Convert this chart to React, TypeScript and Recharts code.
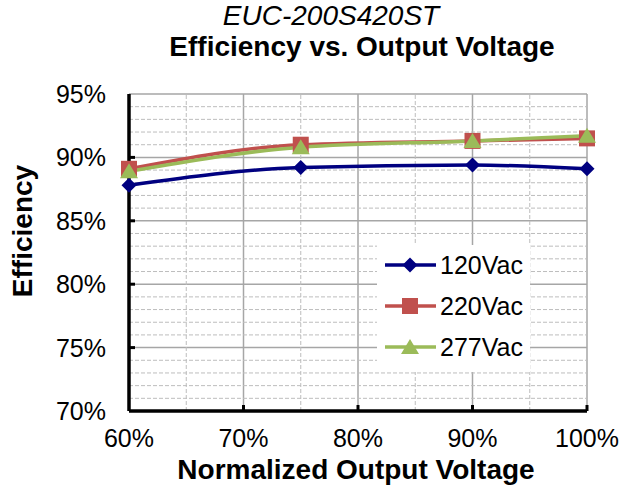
import React from 'react';
import {
  LineChart, Line, XAxis, YAxis, CartesianGrid, ReferenceLine,
} from 'recharts';

// Normalized output voltage (%) and efficiency (%) per input line voltage
const VOLTAGE = [60, 75, 90, 100];
const EFF_120 = [87.8, 89.2, 89.4, 89.1];
const EFF_220 = [89.1, 91.0, 91.3, 91.5];
const EFF_277 = [88.9, 90.8, 91.3, 91.7];

const X_TICKS = [60, 70, 80, 90, 100];
const X_MINOR = [65, 75, 85, 95];
const Y_TICKS = [70, 75, 80, 85, 90, 95];
const Y_MINOR = [71, 72, 73, 74, 76, 77, 78, 79, 81, 82, 83, 84, 86, 87, 88, 89, 91, 92, 93, 94];

const FONT = '"Liberation Sans", Arial, sans-serif';
const BLUE = '#000080';
const RED = '#c0504d';
const GREEN = '#9bbb59';
const GRID = '#a6a6a6';

type Shape = 'diamond' | 'square' | 'triangle';

const SERIES: { key: string; name: string; color: string; shape: Shape }[] = [
  { key: 'e120', name: '120Vac', color: BLUE, shape: 'diamond' },
  { key: 'e220', name: '220Vac', color: RED, shape: 'square' },
  { key: 'e277', name: '277Vac', color: GREEN, shape: 'triangle' },
];

const data = VOLTAGE.map((v, i) => ({
  v, e120: EFF_120[i], e220: EFF_220[i], e277: EFF_277[i],
}));

function marker(shape: Shape, cx: number, cy: number, color: string, key?: string | number) {
  if (shape === 'diamond') {
    const r = 7.5;
    return <path key={key} d={`M${cx},${cy - r}L${cx + r},${cy}L${cx},${cy + r}L${cx - r},${cy}Z`} fill={color} />;
  }
  if (shape === 'square') {
    const s = 8;
    return <rect key={key} x={cx - s} y={cy - s} width={s * 2} height={s * 2} fill={color} />;
  }
  const w = 9;
  return <path key={key} d={`M${cx},${cy - 8}L${cx + w},${cy + 7}L${cx - w},${cy + 7}Z`} fill={color} />;
}

const dotOf = (shape: Shape, color: string) => (p: any) =>
  marker(shape, p.cx, p.cy, color, p.index);

const YTick = (p: any) => {
  const { x, y, payload } = p;
  const ax = x + 23;
  return (
    <g>
      {payload.value !== 70 && payload.value !== 95 && (
        <line x1={ax} x2={ax + 6} y1={y} y2={y} stroke="#000" strokeWidth={3} />
      )}
      <text x={x} y={y} dy={9} textAnchor="end" fontSize={25} fontFamily={FONT} fill="#000">
        {payload.value}%
      </text>
    </g>
  );
};

const XTick = (p: any) => {
  const { x, y, payload } = p;
  const ay = y - 2;
  return (
    <g>
      {payload.value !== 60 && (
        <line x1={x} x2={x} y1={ay} y2={ay - 6} stroke="#000" strokeWidth={3} />
      )}
      <text x={x} y={y} dy={34} textAnchor="middle" fontSize={25} fontFamily={FONT} fill="#000">
        {payload.value}%
      </text>
    </g>
  );
};

const textStyle: React.CSSProperties = {
  position: 'absolute', lineHeight: 1, color: '#000', whiteSpace: 'nowrap',
};

export default function App() {
  return (
    <div style={{ position: 'absolute', left: 0, top: 0, width: 624, height: 491, background: '#fff', fontFamily: FONT }}>
      <LineChart
        width={624}
        height={491}
        data={data}
        margin={{ top: 94, right: 37, bottom: 0, left: 0 }}
        style={{ position: 'absolute', left: 0, top: 0 }}
      >
        <CartesianGrid stroke={GRID} strokeWidth={1.5} />
        {Y_MINOR.map((v) => (
          <ReferenceLine key={`y${v}`} y={v} stroke="#bdbdbd" strokeDasharray="4 2" />
        ))}
        {X_MINOR.map((v) => (
          <ReferenceLine key={`x${v}`} x={v} stroke="#bdbdbd" strokeDasharray="4 2" />
        ))}
        <XAxis
          dataKey="v"
          type="number"
          domain={[60, 100]}
          ticks={X_TICKS}
          axisLine={{ stroke: '#000', strokeWidth: 3.5 }}
          tickLine={false}
          tickSize={0}
          tickMargin={2}
          tick={XTick}
          height={80}
        />
        <YAxis
          type="number"
          domain={[70, 95]}
          ticks={Y_TICKS}
          axisLine={{ stroke: '#000', strokeWidth: 3.5 }}
          tickLine={false}
          tickSize={0}
          tickMargin={23}
          tick={YTick}
          width={129}
        />
        {SERIES.map((s) => (
          <Line key={s.key} type="monotone" dataKey={s.key} name={s.name} stroke={s.color} strokeWidth={3.5}
            dot={dotOf(s.shape, s.color)} isAnimationActive={false} />
        ))}
      </LineChart>
      <div style={{ ...textStyle, left: 331, top: 3, fontSize: 28, lineHeight: 0.9, fontStyle: 'italic', transform: 'translateX(-50%)' }}>
        EUC-200S420ST
      </div>
      <div style={{ ...textStyle, left: 362, top: 33, fontSize: 28, fontWeight: 'bold', transform: 'translateX(-50%)' }}>
        Efficiency vs. Output Voltage
      </div>
      <div style={{ ...textStyle, left: 356, top: 456, fontSize: 28, fontWeight: 'bold', transform: 'translateX(-50%)' }}>
        Normalized Output Voltage
      </div>
      <div style={{ ...textStyle, left: 23, top: 231, fontSize: 28, fontWeight: 'bold', transform: 'translate(-50%, -50%) rotate(-90deg)' }}>
        Efficiency
      </div>
      <div style={{ position: 'absolute', left: 377, top: 245, width: 153, height: 127, background: '#fff' }}>
        {SERIES.map((s, i) => (
          <div key={s.key} style={{ position: 'absolute', left: 8, top: 5 + i * 41, height: 30, display: 'flex', alignItems: 'center' }}>
            <svg width={53} height={30}>
              <line x1={0} x2={51} y1={15} y2={15} stroke={s.color} strokeWidth={3.5} />
              {marker(s.shape, 25, 15, s.color)}
            </svg>
            <span style={{ fontSize: 25, lineHeight: 1, color: '#000', marginLeft: 2 }}>{s.name}</span>
          </div>
        ))}
      </div>
    </div>
  );
}
